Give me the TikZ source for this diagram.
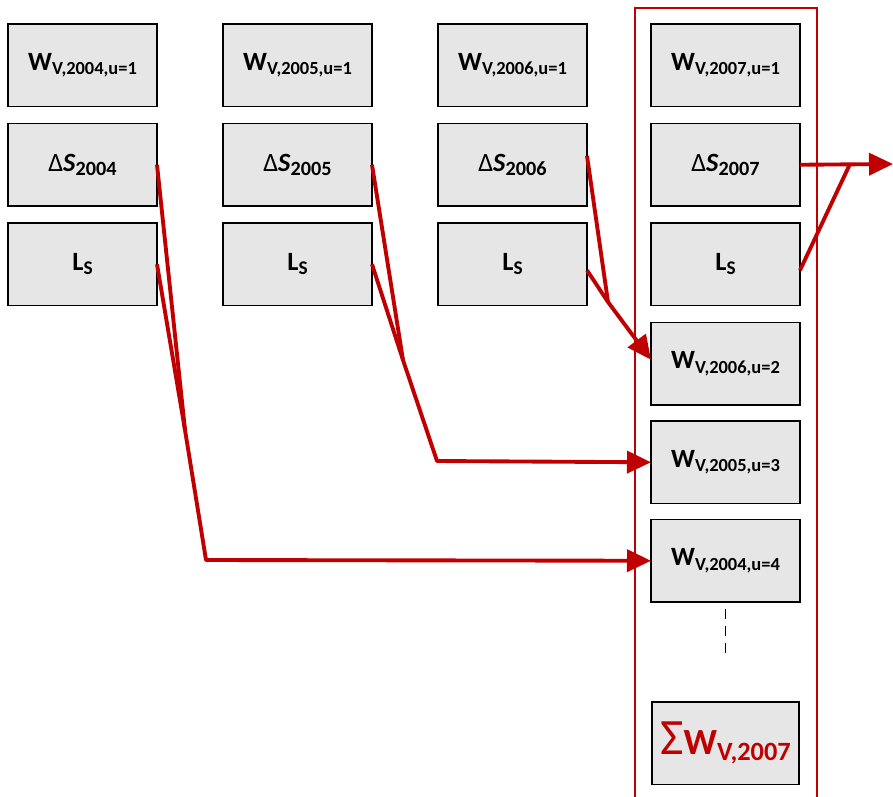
\documentclass[tikz,border=0pt]{standalone}
\usepackage{fontspec}
\setmainfont{Carlito}
\usetikzlibrary{arrows.meta, positioning}
\definecolor{flowred}{HTML}{C00000}
\definecolor{boxgray}{HTML}{E6E6E6}
\tikzset{>={Triangle[length=0.48cm,width=0.44cm]}}
\tikzset{
  varbox/.style={draw=black, line width=0.9pt, fill=boxgray, minimum width=2.98cm,
    minimum height=1.65cm, inner sep=0pt, outer sep=0pt, font=\fontsize{15pt}{15pt}\selectfont},
  sumbox/.style={varbox, minimum width=2.94cm, text=flowred},
  flow/.style={flowred, line width=2.2pt, line join=round},
  frame/.style={flowred, line width=0.9pt}
}
\newcommand{\subtxt}[2][11pt]{\raisebox{-2.4pt}{\fontsize{#1}{#1}\selectfont\textbf{#2}}}
\newcommand{\Wv}[2]{{\fontsize{15pt}{15pt}\selectfont\textbf{W}}\subtxt[10.5pt]{V,#1,u=#2}}
\newcommand{\dS}[1]{Δ\textbf{\textit{S}}\subtxt[11.5pt]{#1}}
\newcommand{\Ls}{\textbf{L}\subtxt{S}}

\begin{document}
\begin{tikzpicture}
\useasboundingbox (0,0) rectangle (17.86,-15.92);
% year columns
\node[varbox, anchor=north west] (w04) at (0.16,-0.48) {\Wv{2004}{1}};
\node[varbox, below=0.34cm of w04] (d04) {\dS{2004}};
\node[varbox, below=0.34cm of d04] (l04) {\Ls};
\node[varbox, right=1.32cm of w04] (w05) {\Wv{2005}{1}};
\node[varbox, below=0.34cm of w05] (d05) {\dS{2005}};
\node[varbox, below=0.34cm of d05] (l05) {\Ls};
\node[varbox, right=1.32cm of w05] (w06) {\Wv{2006}{1}};
\node[varbox, below=0.34cm of w06] (d06) {\dS{2006}};
\node[varbox, below=0.34cm of d06] (l06) {\Ls};
\node[varbox, right=1.28cm of w06] (w07) {\Wv{2007}{1}};
\node[varbox, below=0.34cm of w07] (d07) {\dS{2007}};
\node[varbox, below=0.34cm of d07] (l07) {\Ls};
% carried over
\node[varbox, below=0.34cm of l07] (w06u) {\Wv{2006}{2}};
\node[varbox, below=0.32cm of w06u] (w05u) {\Wv{2005}{3}};
\node[varbox, below=0.32cm of w05u] (w04u) {\Wv{2004}{4}};
\node[sumbox, below=2cm of w04u] (sum07) {{\fontsize{29pt}{29pt}\selectfont Σ}\textbf{\fontsize{21pt}{21pt}\selectfont W}\raisebox{-3.5pt}{\fontsize{15pt}{15pt}\selectfont\textbf{V,2007}}};
\draw[line width=0.7pt, dash pattern=on 0.2cm off 0.14cm] ([yshift=-0.14cm]w04u.south) -- ([yshift=-1.14cm]w04u.south);
\draw[frame] (12.7,-0.16) rectangle (16.34,-16.2);
% flows
\coordinate (m04) at (3.70,-8.60);
\coordinate (c04) at (4.12,-11.20);
\coordinate (m05) at (8.06,-7.20);
\coordinate (c05) at (8.74,-9.22);
\coordinate (m06) at (12.16,-6.04);
\coordinate (j07) at (17.00,-3.28);
\coordinate (out07) at (17.86,-3.28);
\draw[flow] (d04.east) -- (m04);
\draw[flow,->] (l04.east) -- (m04) -- (c04) -- (w04u.west);
\draw[flow] (d05.east) -- (m05);
\draw[flow,->] (l05.east) -- (m05) -- (c05) -- (w05u.west);
\draw[flow] ([yshift=0.18cm]d06.east) -- (m06);
\draw[flow,->] ([yshift=-0.12cm]l06.east) -- (m06) -- ([yshift=0.08cm]w06u.west);
\draw[flow,->] (d07.east) -- (out07);
\draw[flow] ([yshift=-0.12cm]l07.east) -- (j07);
\end{tikzpicture}
\end{document}
